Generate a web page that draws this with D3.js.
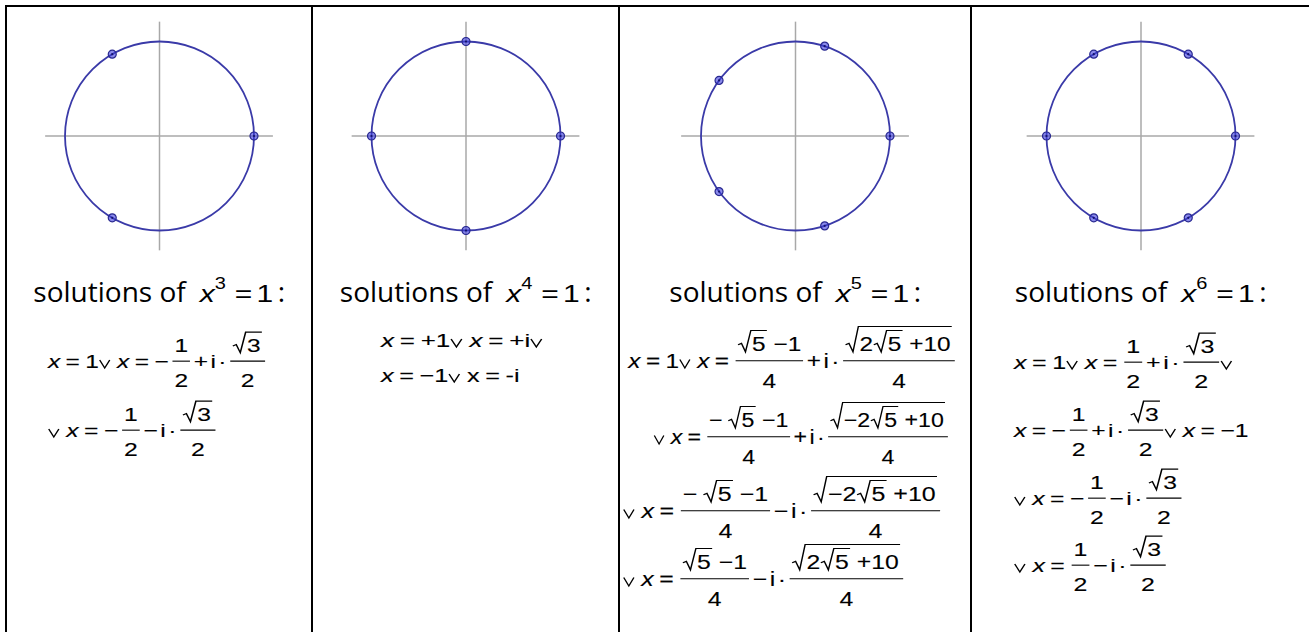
<!DOCTYPE html>
<html>
<head>
<meta charset="utf-8">
<script src="https://cdn.jsdelivr.net/npm/d3@7"></script>
<style>
  body { margin: 0; background: #fff; }
  text { white-space: pre; }
</style>
</head>
<body>
<svg id="chart"></svg>
<script>
const width = 1309;
const height = 632;

// n in x^n = 1, one column each
const degrees = [3, 4, 5, 6];

// angle (degrees) of every marked point on the unit circle
const rootAngles = [
  [0, 120, 240],
  [0, 90, 180, 270],
  [0, 72, 144, 216, 288],
  [0, 60, 120, 180, 240, 300],
];

// written solutions, one string per line
// *x* = italic, [a|b] = fraction, r{..} = square root, ~ = thin gap
const solutions3 = [
  "*x* = 1∨ *x* = −~[1|2]~+~i~·~[r{3}|2]",
  "∨ *x* = −~[1|2]~−~i~·~[r{3}|2]",
];
const solutions4 = [
  "*x* = +1∨ *x* = +i∨",
  "*x* = −1∨ x = -i",
];
const solutions5 = [
  " *x* = 1∨ *x* = [r{5} −1|4]~+~i~·~[r{2r{5} +10}|4]",
  "      ∨ *x* = [− r{5} −1|4]~+~i~·~[r{−2r{5} +10}|4]",
  "∨ *x* = [− r{5} −1|4]~−~i~·~[r{−2r{5} +10}|4]",
  "∨ *x* = [r{5} −1|4]~−~i~·~[r{2r{5} +10}|4]",
];
const solutions6 = [
  "*x* = 1∨ *x* = [1|2]~+~i~·~[r{3}|2]∨",
  "*x* = −~[1|2]~+~i~·~[r{3}|2]∨ *x* = −1",
  "∨ *x* = −~[1|2]~−~i~·~[r{3}|2]",
  "∨ *x* = [1|2]~−~i~·~[r{3}|2]",
];
const solutionLines = [solutions3, solutions4, solutions5, solutions6];

// ---- layout ----
const colEdges = [6, 312, 619, 971, 1310];
const circleCy = 136;
const circleR = 94.5;
const headBase = 302;
const mathLeft = [42, 69, 4, 43];
const mathSize = [19, 19, 20, 19];
// the formulas in the original are pasted images, a bit wider than the font
const lineStretch = [
  [1.29, 1.30],
  [1.37, 1.33],
  [1.22, 1.16, 1.25, 1.24],
  [1.32, 1.30, 1.30, 1.31],
];
const lineBase = [
  [368, 437],
  [347, 382],
  [368, 444, 518, 586],
  [369, 437, 505, 572],
];
const mathFont = "'Liberation Sans', Arial, sans-serif";
const textFont = "'Open Sans', sans-serif";

const svg = d3.select("#chart").attr("width", width).attr("height", height);

// table frame
svg.append("line")
  .attr("x1", colEdges[0] - 1).attr("x2", width)
  .attr("y1", 6).attr("y2", 6)
  .attr("stroke", "#000").attr("stroke-width", 2);
svg.selectAll(".edge")
  .data(colEdges)
  .join("line")
  .attr("class", "edge")
  .attr("x1", d => d).attr("x2", d => d)
  .attr("y1", 5).attr("y2", height)
  .attr("stroke", "#000").attr("stroke-width", 2);

// parse the little markup into nodes
function parse(s) {
  let i = 0;
  function seq(stop) {
    const out = [];
    let buf = "";
    let italic = false;
    const flush = () => {
      if (buf) out.push({ type: "text", text: buf, italic: italic });
      buf = "";
    };
    while (i < s.length) {
      const c = s[i];
      if (stop.includes(c)) break;
      if (c === "*") { flush(); italic = !italic; i++; }
      else if (c === " ") { flush(); out.push({ type: "gap", w: 0.22 }); i++; }
      else if (c === "~") { flush(); out.push({ type: "gap", w: 0.1 }); i++; }
      else if (c === "∨") { flush(); out.push({ type: "vee" }); i++; }
      else if (c === "[") {
        flush(); i++;
        const num = seq("|"); i++;
        const den = seq("]"); i++;
        out.push({ type: "frac", num: num, den: den });
      } else if (c === "r" && s[i + 1] === "{") {
        flush(); i += 2;
        const body = seq("}"); i++;
        out.push({ type: "sqrt", body: body });
      } else { buf += c; i++; }
    }
    flush();
    return out;
  }
  return seq("");
}

function depth(nodes) {
  let d = 0;
  nodes.forEach(n => {
    if (n.type === "sqrt") d = Math.max(d, 1 + depth(n.body));
    if (n.type === "frac") d = Math.max(d, depth(n.num), depth(n.den));
  });
  return d;
}

// draws nodes starting at x on baseline, returns the width used
function typeset(g, nodes, x, base, size) {
  let cx = x;
  const cap = size * 0.716;
  nodes.forEach(n => {
    if (n.type === "text") {
      const t = g.append("text")
        .attr("x", cx).attr("y", base)
        .style("font-family", mathFont)
        .style("font-size", size + "px")
        .style("font-style", n.italic ? "italic" : "normal")
        .attr("fill", "#000")
        .attr("stroke", "#000").attr("stroke-width", 0.12)
        .text(n.text);
      cx += t.node().getComputedTextLength();
    } else if (n.type === "gap") {
      cx += n.w * size;
    } else if (n.type === "vee") {
      const w = size * 0.41;
      const h = size * 0.42;
      const x0 = cx + size * 0.03;
      g.append("path")
        .attr("d", "M" + x0 + "," + (base - h) + "L" + (x0 + w / 2) + "," + base + "L" + (x0 + w) + "," + (base - h))
        .attr("fill", "none").attr("stroke", "#000").attr("stroke-width", 1.1);
      cx += size * 0.52;
    } else if (n.type === "frac") {
      const tmp = g.append("g");
      const wn = typeset(tmp, n.num, 0, 0, size);
      const wd = typeset(tmp, n.den, 0, 0, size);
      tmp.remove();
      const pad = 2.5;
      const w = Math.max(wn, wd) + pad * 2;
      const bar = base - size * 0.36;
      g.append("line")
        .attr("x1", cx + 1).attr("x2", cx + w - 1)
        .attr("y1", bar).attr("y2", bar)
        .attr("stroke", "#000").attr("stroke-width", 1.1);
      typeset(g, n.num, cx + (w - wn) / 2, bar - size * 0.5, size);
      typeset(g, n.den, cx + (w - wd) / 2, bar + size * 1.36, size);
      cx += w;
    } else if (n.type === "sqrt") {
      const radW = size * 0.55;
      const wb = typeset(g, n.body, cx + radW + 1, base, size);
      const top = base - cap - 6 - 4 * depth(n.body);
      const p = d3.path();
      p.moveTo(cx + 0.5, base - cap * 0.42);
      p.lineTo(cx + radW * 0.3, base - cap * 0.52);
      p.lineTo(cx + radW * 0.6, base + 1);
      p.lineTo(cx + radW, top);
      p.lineTo(cx + radW + wb + 2, top);
      g.append("path").attr("d", p.toString())
        .attr("fill", "none").attr("stroke", "#000")
        .attr("stroke-width", 1.2).attr("stroke-linejoin", "miter");
      cx += radW + wb + 3;
    }
  });
  return cx - x;
}

degrees.forEach((n, k) => {
  const left = colEdges[k];
  const mid = (colEdges[k] + colEdges[k + 1]) / 2 + 0.5;
  const g = svg.append("g");

  const xs = d3.scaleLinear().domain([-1, 1]).range([mid - circleR, mid + circleR]);
  const ys = d3.scaleLinear().domain([-1, 1]).range([circleCy + circleR, circleCy - circleR]);

  // axes
  g.append("line")
    .attr("x1", xs(-1.21)).attr("x2", xs(1.2))
    .attr("y1", ys(0)).attr("y2", ys(0))
    .attr("stroke", "#a8a8a8").attr("stroke-width", 1.5);
  g.append("line")
    .attr("x1", xs(0)).attr("x2", xs(0))
    .attr("y1", ys(1.21)).attr("y2", ys(-1.21))
    .attr("stroke", "#a8a8a8").attr("stroke-width", 1.5);

  // unit circle
  g.append("circle")
    .attr("cx", xs(0)).attr("cy", ys(0))
    .attr("r", xs(1) - xs(0))
    .attr("fill", "none")
    .attr("stroke", "#3a3aa8").attr("stroke-width", 1.8);

  // roots
  const pts = g.selectAll(".root")
    .data(rootAngles[k])
    .join("g")
    .attr("class", "root")
    .attr("transform", a => "translate(" + xs(Math.cos(a * Math.PI / 180)) + "," + ys(Math.sin(a * Math.PI / 180)) + ")");
  pts.append("circle").attr("r", 4)
    .attr("fill", "rgba(60,60,220,0.6)")
    .attr("stroke", "#28288f").attr("stroke-width", 1.2);
  pts.append("circle").attr("r", 1.1).attr("fill", "#15156a");

  // heading "solutions of x^n = 1:"
  const hg = g.append("g");
  const words = hg.append("text")
    .attr("x", 0).attr("y", headBase)
    .style("font-family", textFont).style("font-size", "28px")
    .attr("fill", "#000")
    .text("solutions of");
  const ww = words.node().getComputedTextLength();
  const mathX = ww + 14;
  const hm = hg.append("g")
    .attr("transform", "translate(" + mathX + ",0) scale(1.25,1)");
  const ht = hm.append("text").attr("y", headBase).attr("fill", "#000")
    .style("font-family", mathFont);
  ht.append("tspan").attr("x", 0).style("font-size", "24px").style("font-style", "italic").text("x");
  ht.append("tspan").attr("x", 12).attr("y", headBase - 13).style("font-size", "16px").text(n);
  ht.append("tspan").attr("x", 28).attr("y", headBase).style("font-size", "24px").text("=");
  ht.append("tspan").attr("x", 45.5).style("font-size", "24px").text("1");
  const colonX = mathX + 78;
  hg.append("text")
    .attr("x", colonX).attr("y", headBase)
    .style("font-family", textFont).style("font-size", "28px")
    .attr("fill", "#000")
    .text(":");
  const total = colonX + 8;
  hg.attr("transform", "translate(" + (mid - total / 2) + ",0)");

  // solution lines
  solutionLines[k].forEach((line, j) => {
    const x0 = left + mathLeft[k];
    const lg = g.append("g")
      .attr("transform", "translate(" + x0 + ",0) scale(" + lineStretch[k][j] + ",1)");
    typeset(lg, parse(line), 0, lineBase[k][j], mathSize[k]);
  });
});
</script>
</body>
</html>
